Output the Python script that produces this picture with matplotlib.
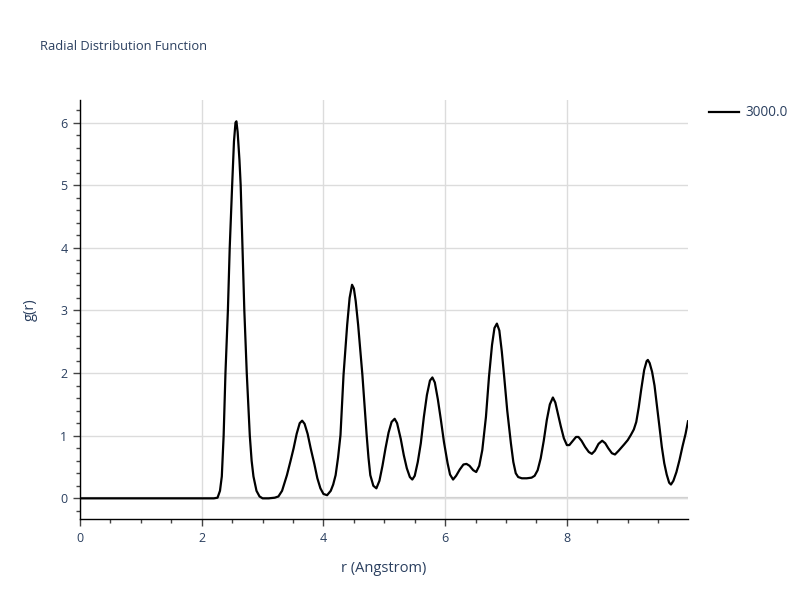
import matplotlib
matplotlib.use("Agg")
import matplotlib.pyplot as plt
from matplotlib.ticker import MultipleLocator

plt.rcParams['font.family'] = ['Open Sans', 'DejaVu Sans']

title = "Radial Distribution Function"
series_name = "3000.0"
x_label = "r (Angstrom)"
y_label = "g(r)"

r = [0.0, 1.0, 2.2, 2.26, 2.30, 2.33, 2.36, 2.39, 2.43, 2.46, 2.50, 2.53, 2.555, 2.57, 2.59,
     2.62, 2.64, 2.67, 2.70, 2.74, 2.79, 2.82, 2.85, 2.90, 2.95, 3.0, 3.1, 3.2, 3.26, 3.32,
     3.40, 3.46, 3.51, 3.56, 3.61, 3.65, 3.69, 3.74, 3.79, 3.85, 3.90, 3.95, 4.00, 4.06,
     4.12, 4.16, 4.20, 4.24, 4.28, 4.33, 4.39, 4.43, 4.47, 4.50, 4.53, 4.57, 4.64, 4.71,
     4.74, 4.77, 4.82, 4.87, 4.92, 4.97, 5.02, 5.07, 5.12, 5.17, 5.21, 5.27, 5.32, 5.37,
     5.42, 5.46, 5.50, 5.55, 5.60, 5.65, 5.70, 5.75, 5.79, 5.83, 5.88, 5.93, 5.98, 6.04,
     6.08, 6.13, 6.18, 6.24, 6.30, 6.35, 6.40, 6.46, 6.51, 6.56, 6.61, 6.67, 6.72, 6.77,
     6.81, 6.85, 6.89, 6.93, 6.97, 7.02, 7.08, 7.12, 7.16, 7.20, 7.26, 7.34, 7.42, 7.47,
     7.52, 7.57, 7.62, 7.67, 7.72, 7.77, 7.81, 7.86, 7.90, 7.95, 8.00, 8.04, 8.10, 8.15,
     8.19, 8.24, 8.30, 8.36, 8.41, 8.46, 8.52, 8.58, 8.63, 8.68, 8.74, 8.79, 8.85, 8.94,
     9.00, 9.05, 9.10, 9.14, 9.18, 9.22, 9.27, 9.31, 9.33, 9.36, 9.40, 9.44, 9.48, 9.52,
     9.56, 9.60, 9.64, 9.68, 9.71, 9.75, 9.80, 9.85, 9.90, 9.95, 9.99]
g = [0.0, 0.0, 0.0, 0.01, 0.12, 0.35, 1.0, 2.0, 3.0, 4.0, 5.0, 5.7, 6.0, 6.02, 5.85,
     5.4, 5.0, 4.0, 3.0, 2.0, 1.0, 0.6, 0.35, 0.12, 0.03, 0.0, 0.0, 0.01, 0.03, 0.12,
     0.37, 0.60, 0.80, 1.03, 1.20, 1.24, 1.19, 1.03, 0.80, 0.55, 0.32, 0.16, 0.07, 0.05,
     0.12, 0.22, 0.37, 0.65, 1.01, 1.97, 2.77, 3.2, 3.41, 3.35, 3.15, 2.77, 1.97, 1.01,
     0.65, 0.37, 0.20, 0.16, 0.28, 0.52, 0.80, 1.05, 1.22, 1.27, 1.20, 0.95, 0.69, 0.48,
     0.34, 0.30, 0.36, 0.58, 0.88, 1.30, 1.65, 1.88, 1.93, 1.85, 1.58, 1.25, 0.90, 0.56,
     0.38, 0.30, 0.36, 0.46, 0.54, 0.55, 0.52, 0.45, 0.42, 0.52, 0.77, 1.30, 1.94, 2.45,
     2.72, 2.79, 2.68, 2.35, 1.94, 1.40, 0.88, 0.58, 0.40, 0.34, 0.32, 0.32, 0.33, 0.36,
     0.45, 0.64, 0.92, 1.25, 1.50, 1.61, 1.53, 1.32, 1.15, 0.96, 0.85, 0.85, 0.92, 0.98,
     0.98, 0.92, 0.82, 0.74, 0.71, 0.76, 0.87, 0.92, 0.88, 0.80, 0.72, 0.70, 0.76, 0.86,
     0.93, 1.01, 1.10, 1.22, 1.45, 1.73, 2.05, 2.19, 2.21, 2.16, 2.02, 1.80, 1.48, 1.15,
     0.82, 0.56, 0.38, 0.25, 0.22, 0.28, 0.42, 0.61, 0.83, 1.03, 1.23]

text_color = '#2a3f5f'

fig = plt.figure(figsize=(8, 6), dpi=100)
ax = fig.add_axes([0.1, 0.135, 0.76, 0.6983])

ax.plot(r, g, color='black', lw=1.6, label=series_name, zorder=3,
        solid_joinstyle='round')

ax.set_xlim(0, 9.99)
ax.set_ylim(-0.33, 6.36)

ax.xaxis.set_major_locator(MultipleLocator(2))
ax.xaxis.set_minor_locator(MultipleLocator(0.5))
ax.yaxis.set_major_locator(MultipleLocator(1))
ax.yaxis.set_minor_locator(MultipleLocator(0.2))

ax.grid(True, which='major', color='#dcdcdc', lw=1.0, zorder=0)
ax.axhline(0, color='#cfcfcf', lw=1.6, zorder=1)

for s in ['top', 'right']:
    ax.spines[s].set_visible(False)
for s in ['left', 'bottom']:
    ax.spines[s].set_color('black')
    ax.spines[s].set_linewidth(1.0)

ax.tick_params(which='major', direction='out', length=5, width=1, color='#444444',
               labelsize=9, labelcolor=text_color, pad=4)
ax.tick_params(which='minor', direction='out', length=3, width=1, color='#444444')

ax.set_xlabel(x_label, fontsize=10.5, color=text_color, labelpad=12)
ax.set_ylabel(y_label, fontsize=10.5, color=text_color, labelpad=16)

fig.text(0.05, 0.922, title, fontsize=9.3, color=text_color, ha='left', va='center')

leg = ax.legend(loc='upper left', bbox_to_anchor=(1.025, 1.0), frameon=False,
                fontsize=9.8, handlelength=2.2, handletextpad=0.5, borderaxespad=0.0)
for t in leg.get_texts():
    t.set_color(text_color)

fig.savefig('out.png', dpi=100)
